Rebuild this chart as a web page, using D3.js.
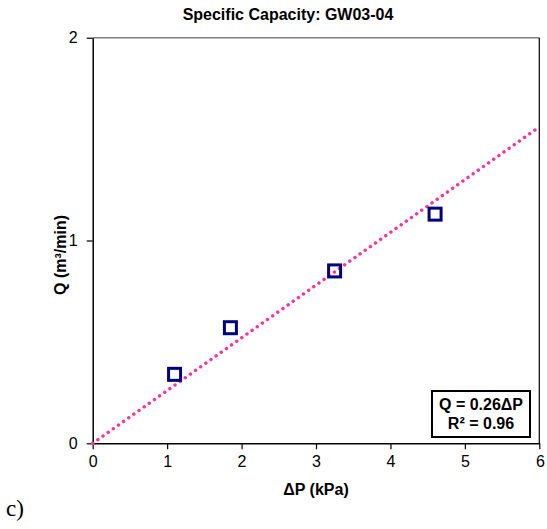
<!DOCTYPE html>
<html>
<head>
<meta charset="utf-8">
<script src="https://cdn.jsdelivr.net/npm/d3@7"></script>
<style>
  body { margin: 0; background: #fff; }
</style>
</head>
<body>
<svg width="547" height="529" font-family="Liberation Sans, Arial, sans-serif"></svg>
<script>
// measured points, dP (kPa) vs Q (m3/min)
const dP = [1.1, 1.85, 3.25, 4.6];
const Q = [0.34, 0.57, 0.85, 1.13];
const slope = 0.26;       // Q = 0.26 dP, through origin
const r2 = 0.96;
const xTicks = [0, 1, 2, 3, 4, 5, 6];
const yTicks = [0, 1, 2];

var svg = d3.select("svg");

var x = d3.scaleLinear().domain([0, 6]).range([92.7, 539.3]);
var y = d3.scaleLinear().domain([0, 2]).range([443.3, 37.7]);

svg.append("rect").attr("width", 547).attr("height", 529).attr("fill", "#fff");

// plot frame
svg.append("line") // top border is grey
  .attr("x1", x(0)).attr("x2", x(6)).attr("y1", y(2)).attr("y2", y(2))
  .attr("stroke", "#808080").attr("stroke-width", 1.5);
svg.append("line")
  .attr("x1", x(6)).attr("x2", x(6)).attr("y1", y(2)).attr("y2", y(0))
  .attr("stroke", "#000").attr("stroke-width", 1.2);

// axes
var xAxis = d3.axisBottom(x).tickValues(xTicks).tickFormat(d3.format("d"))
  .tickSize(6).tickSizeOuter(0).tickPadding(6);
var yAxis = d3.axisLeft(y).tickValues(yTicks).tickFormat(d3.format("d"))
  .tickSize(6).tickSizeOuter(0).tickPadding(9);

var gx = svg.append("g").attr("transform", `translate(0,${y(0)})`).call(xAxis);
var gy = svg.append("g").attr("transform", `translate(${x(0)},0)`).call(yAxis);
[gx, gy].forEach(g => {
  g.attr("font-family", null).attr("font-size", null);
  g.select(".domain").attr("stroke", "#000").attr("stroke-width", 1.5);
  g.selectAll(".tick line").attr("stroke", "#000").attr("stroke-width", 1.2);
  g.selectAll(".tick text").attr("font-size", 16).attr("fill", "#000");
});
gx.selectAll(".tick:last-child text").attr("text-anchor", "end").attr("dx", 5);

// trend line
svg.append("line")
  .attr("x1", x(0)).attr("y1", y(0))
  .attr("x2", x(6)).attr("y2", y(slope * 6))
  .attr("stroke", "#ff3399").attr("stroke-width", 3.4)
  .attr("stroke-linecap", "round")
  .attr("stroke-dasharray", "0.1 6.2");

// markers
svg.append("g").selectAll("rect")
  .data(dP.map((d, i) => [d, Q[i]]))
  .enter().append("rect")
  .attr("x", d => x(d[0]) - 6).attr("y", d => y(d[1]) - 6)
  .attr("width", 12).attr("height", 12)
  .attr("fill", "none").attr("stroke", "#000080").attr("stroke-width", 3);

// equation box
svg.append("rect")
  .attr("x", 432).attr("y", 391).attr("width", 98).attr("height", 46)
  .attr("fill", "#fff").attr("stroke", "#000").attr("stroke-width", 2);
svg.append("text").attr("x", 481).attr("y", 410)
  .attr("text-anchor", "middle").attr("font-size", 16).attr("font-weight", "bold")
  .text(`Q = ${slope}ΔP`);
svg.append("text").attr("x", 481).attr("y", 429)
  .attr("text-anchor", "middle").attr("font-size", 16).attr("font-weight", "bold")
  .text(`R² = ${r2}`);

// titles
svg.append("text").attr("x", 288).attr("y", 20)
  .attr("text-anchor", "middle").attr("font-size", 16).attr("font-weight", "bold")
  .text("Specific Capacity: GW03-04");
svg.append("text").attr("x", 316).attr("y", 495)
  .attr("text-anchor", "middle").attr("font-size", 16).attr("font-weight", "bold")
  .text("ΔP (kPa)");
svg.append("text")
  .attr("transform", "translate(66,255) rotate(-90)")
  .attr("text-anchor", "middle").attr("font-size", 16).attr("font-weight", "bold")
  .text("Q (m³/min)");

svg.append("text").attr("x", 6).attr("y", 516)
  .attr("font-family", "Liberation Serif, Times New Roman, serif")
  .attr("font-size", 23).text("c)");
</script>
</body>
</html>
